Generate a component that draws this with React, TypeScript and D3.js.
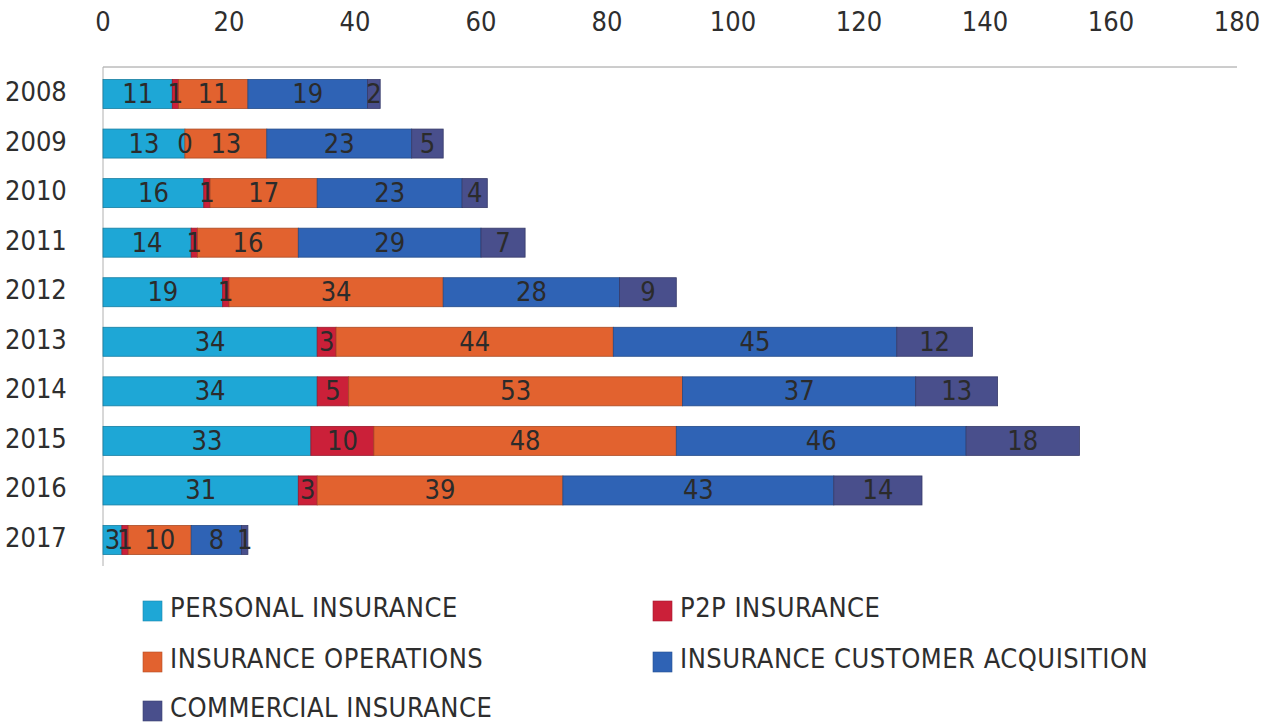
import React from 'react';
import * as d3 from 'd3';

const years = ['2008', '2009', '2010', '2011', '2012', '2013', '2014', '2015', '2016', '2017'];
const personal = [11, 13, 16, 14, 19, 34, 34, 33, 31, 3];
const p2p = [1, 0, 1, 1, 1, 3, 5, 10, 3, 1];
const operations = [11, 13, 17, 16, 34, 44, 53, 48, 39, 10];
const acquisition = [19, 23, 23, 29, 28, 45, 37, 46, 43, 8];
const commercial = [2, 5, 4, 7, 9, 12, 13, 18, 14, 1];
const ticks = [0, 20, 40, 60, 80, 100, 120, 140, 160, 180];

const series = [
  { name: 'PERSONAL INSURANCE', values: personal, color: '#1ea7d6' },
  { name: 'P2P INSURANCE', values: p2p, color: '#cb2039' },
  { name: 'INSURANCE OPERATIONS', values: operations, color: '#e2622f' },
  { name: 'INSURANCE CUSTOMER ACQUISITION', values: acquisition, color: '#2f63b5' },
  { name: 'COMMERCIAL INSURANCE', values: commercial, color: '#494f8c' },
];

const W = 1273;
const H = 722;
const FONT = '"DejaVu Sans Condensed", "DejaVu Sans", sans-serif';

const App: React.FC = () => {
  const x = d3.scaleLinear().domain([0, 180]).range([103, 1237]);
  const y = d3.scalePoint<string>().domain(years).range([94, 540]);
  const barH = 29;

  const rows = years.map((yr, i) => {
    let acc = 0;
    return series.map((s) => {
      const v = s.values[i];
      const seg = { year: yr, x0: acc, x1: acc + v, v, color: s.color, name: s.name };
      acc += v;
      return seg;
    });
  });

  // legend: two columns, three rows
  const legend = [
    { s: series[0], lx: 143, ly: 617 },
    { s: series[1], lx: 653, ly: 617 },
    { s: series[2], lx: 143, ly: 668 },
    { s: series[3], lx: 653, ly: 668 },
    { s: series[4], lx: 143, ly: 717 },
  ];

  return (
    <svg width={W} height={H} style={{ position: 'absolute', left: 0, top: 0, background: '#fff' }}>
      {/* top axis */}
      {ticks.map((t) => (
        <text key={t} x={x(t)} y={31} textAnchor="middle" fontFamily={FONT} fontSize={27}
          fill="#2e2e2e">{t}</text>
      ))}
      <line x1={x(0)} x2={x(180)} y1={67} y2={67} stroke="#9a9a9a" strokeWidth={1} />
      <line x1={x(0)} x2={x(0)} y1={67} y2={566} stroke="#b0b0b0" strokeWidth={1} />

      {years.map((yr) => (
        <text key={yr} x={5} y={(y(yr) ?? 0) + 7} fontFamily={FONT} fontSize={27}
          fill="#2e2e2e">{yr}</text>
      ))}

      {rows.map((segs, i) => (
        <g key={years[i]}>
          {segs.map((d) => (
            <rect key={d.name} x={x(d.x0)} y={(y(d.year) ?? 0) - barH / 2}
              width={x(d.x1) - x(d.x0)} height={barH} fill={d.color}
              stroke={d3.color(d.color)!.darker(0.8).toString()} strokeWidth={0.8} />
          ))}
          {segs.map((d) => (
            <text key={d.name + 't'} x={(x(d.x0) + x(d.x1)) / 2} y={(y(d.year) ?? 0) + 9}
              textAnchor="middle" fontFamily={FONT} fontSize={27} fill="#2b2b2b">{d.v}</text>
          ))}
        </g>
      ))}

      {legend.map(({ s, lx, ly }) => (
        <g key={s.name}>
          <rect x={lx} y={ly - 16} width={19} height={20} fill={s.color}
            stroke={d3.color(s.color)!.darker(0.6).toString()} strokeWidth={0.6} />
          <text x={lx + 27} y={ly} fontFamily={FONT} fontSize={27} letterSpacing={0.5}
            fill="#2e2e2e">{s.name}</text>
        </g>
      ))}
    </svg>
  );
};

export default App;
